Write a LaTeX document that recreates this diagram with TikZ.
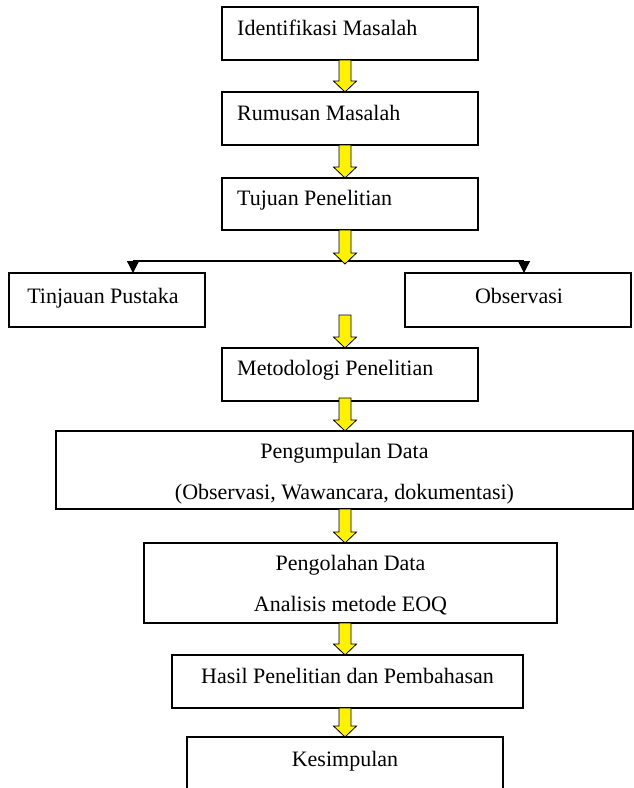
\documentclass[tikz,border=0pt]{standalone}
\usepackage{fontspec}
\setmainfont{Liberation Serif}
\usetikzlibrary{calc,arrows.meta}
\tikzset{
  box/.style={draw, line width=1.1pt, rectangle, inner sep=0pt, outer sep=0pt, anchor=north west},
  txt/.style={font=\fontsize{22}{26}\selectfont, inner sep=0pt},
  yarrow/.style={draw=black, line width=0.8pt, fill=yellow, line join=miter},
  blk/.style={line width=1.3pt},
}
\newcommand{\yarr}[2]{\draw[yarrow] let \p1=(#1), \p2=(#2) in
  (\x1-6pt,\y1) -- (\x1-6pt,\y2+11pt) -- (\x1-11.5pt,\y2+11pt) -- (\x1,\y2) --
  (\x1+11.5pt,\y2+11pt) -- (\x1+6pt,\y2+11pt) -- (\x1+6pt,\y1) -- cycle;}
\begin{document}
\begin{tikzpicture}[x=1pt,y=-1pt]
\useasboundingbox (0,0) rectangle (634,788);
\clip (0,0) rectangle (634,788);
% boxes
\node[box, minimum width=256, minimum height=53] (b1) at (222,7) {};
\node[box, minimum width=256, minimum height=53] (b2) at (222,92) {};
\node[box, minimum width=256, minimum height=52] (b3) at (222,178) {};
\node[box, minimum width=196, minimum height=54] (b4) at (9,273) {};
\node[box, minimum width=226, minimum height=54] (b5) at (405,273) {};
\node[box, minimum width=256, minimum height=53] (b6) at (222,348) {};
\node[box, minimum width=577, minimum height=78] (b7) at (56,431) {};
\node[box, minimum width=413, minimum height=80] (b8) at (144,543) {};
\node[box, minimum width=351, minimum height=53] (b9) at (172,655) {};
\node[box, minimum width=316, minimum height=80] (b10) at (187,737) {};
% texts
\node[txt, anchor=base west] (t1) at (237,35) {Identifikasi Masalah};
\node[txt, anchor=base west] (t2) at (237,120) {Rumusan Masalah};
\node[txt, anchor=base west] (t3) at (237,205) {Tujuan Penelitian};
\node[txt, anchor=base] (t4) at (103,303) {Tinjauan Pustaka};
\node[txt, anchor=base] (t5) at (519,303) {Observasi};
\node[txt, anchor=base west] (t6) at (237,375) {Metodologi Penelitian};
\node[txt, anchor=base] (t7a) at (344.5,458) {Pengumpulan Data};
\node[txt, anchor=base] (t7b) at (344.5,499) {(Observasi, Wawancara, dokumentasi)};
\node[txt, anchor=base] (t8a) at (350.5,570) {Pengolahan Data};
\node[txt, anchor=base] (t8b) at (350.5,611) {Analisis metode EOQ};
\node[txt, anchor=base] (t9) at (347.5,683) {Hasil Penelitian dan Pembahasan};
\node[txt, anchor=base] (t10) at (345,766) {Kesimpulan};
% branch line
\coordinate (ax) at (345,0);
\coordinate (hl) at (133,261);
\coordinate (hr) at (524,261);
\coordinate (s4) at (345,315);
\draw[blk] (hl) -- (hr);
\draw[blk, -{Triangle[width=12pt,length=12pt]}] (hl) -- (hl |- b4.north);
\draw[blk, -{Triangle[width=12pt,length=12pt]}] (hr) -- (hr |- b5.north);
% yellow arrows
\yarr{ax |- b1.south}{ax |- b2.north}
\yarr{ax |- b2.south}{ax |- b3.north}
\yarr{ax |- b3.south}{$(ax |- hl)+(0,3)$}
\yarr{s4}{ax |- b6.north}
\yarr{$(ax |- b6.south)+(0,-3)$}{ax |- b7.north}
\yarr{ax |- b7.south}{ax |- b8.north}
\yarr{ax |- b8.south}{ax |- b9.north}
\yarr{ax |- b9.south}{ax |- b10.north}
\end{tikzpicture}
\end{document}
